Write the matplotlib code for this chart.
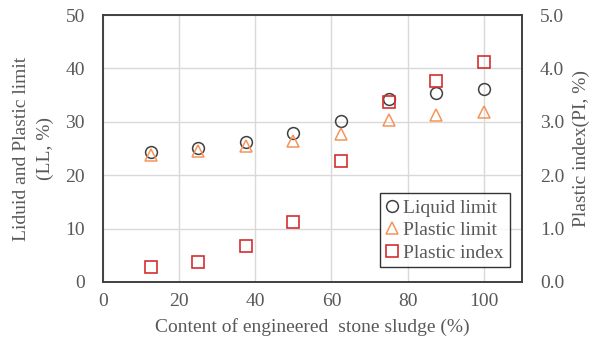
import numpy as np
import matplotlib.pyplot as plt

plt.rcParams['font.family'] = ['Liberation Serif', 'DejaVu Serif']

content = [12.5, 25, 37.5, 50, 62.5, 75, 87.5, 100]
liquid_limit = [24.4, 25.1, 26.2, 27.9, 30.2, 34.2, 35.4, 36.2]
plastic_limit = [23.7, 24.6, 25.5, 26.4, 27.8, 30.4, 31.3, 31.8]
plastic_index = [0.28, 0.38, 0.68, 1.13, 2.27, 3.37, 3.76, 4.13]

TXT = '#595959'

fig = plt.figure(figsize=(6.04, 3.51), dpi=100)
ax = fig.add_axes([0.1705, 0.1966, 0.6935, 0.7604])
ax2 = ax.twinx()

h1, = ax.plot(content, liquid_limit, 'o', ms=8.5, mfc='none', mec='#404040', mew=1.1, label='Liquid limit')
h2, = ax.plot(content, plastic_limit, '^', ms=8.5, mfc='none', mec='#f4945a', mew=1.1, label='Plastic limit')
h3, = ax2.plot(content, plastic_index, 's', ms=9, mfc='none', mec='#d42e2e', mew=1.2, label='Plastic index')

ax.set_xlim(0, 110)
ax.set_ylim(0, 50)
ax2.set_ylim(0, 5)
ax.set_xticks(np.arange(0, 101, 20))
ax.set_yticks(np.arange(0, 51, 10))
ax2.set_yticks(np.arange(0, 5.1, 1))
ax2.set_yticklabels(['%.1f' % v for v in np.arange(0, 5.1, 1)])

ax.grid(True, color='#d9d9d9', lw=1)
ax.set_axisbelow(True)
for a in (ax, ax2):
    a.tick_params(length=0, labelsize=14, labelcolor=TXT, pad=13)
    for s in a.spines.values():
        s.set_color('#404040')
        s.set_linewidth(1.2)
ax.tick_params(axis='x', pad=8)

ax.set_xlabel('Content of engineered  stone sludge (%)', fontsize=14, color=TXT, labelpad=6)
ax.set_ylabel('Liduid and Plastic limit\n(LL, %)', fontsize=14, color=TXT, labelpad=8, linespacing=1.5)
ax2.set_ylabel('Plastic index(PI, %)', fontsize=14, color=TXT, labelpad=6)

leg = ax2.legend(handles=[h1, h2, h3], loc='lower right', bbox_to_anchor=(0.98, 0.04),
                 fontsize=14, frameon=True, fancybox=False, edgecolor='black',
                 handlelength=0.6, handletextpad=0.3, borderpad=0.3, labelspacing=0.25,
                 borderaxespad=0.2)
leg.get_frame().set_linewidth(1.0)
for t in leg.get_texts():
    t.set_color(TXT)

fig.savefig('out.png', dpi=100)
